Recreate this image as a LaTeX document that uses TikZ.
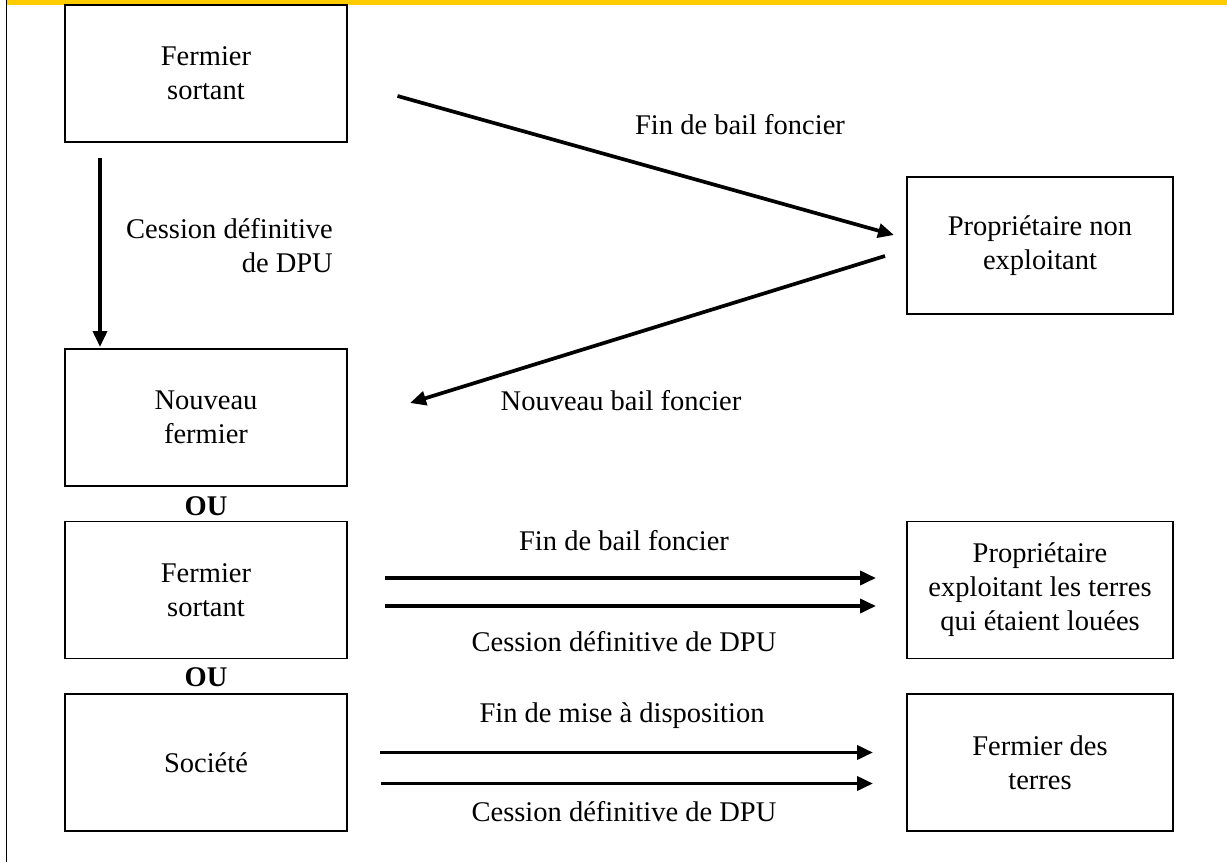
\documentclass[tikz,border=0pt]{standalone}
\usepackage{fontspec}
\setmainfont{Liberation Serif}
\usetikzlibrary{arrows.meta}
\definecolor{bandyellow}{HTML}{FFCC00}
\tikzset{
  box/.style={draw=black, line width=1.4pt, minimum width=282pt, minimum height=137pt, inner sep=0pt, align=center, font=\fontsize{28.5}{34}\selectfont},
  rbox/.style={box, minimum width=266pt},
  lbl/.style={inner sep=0pt, font=\fontsize{28.5}{34}\selectfont},
  ou/.style={inner sep=0pt, font=\fontsize{28.5}{34}\selectfont\bfseries},
  arr/.style={line width=3.7pt, -{Triangle[length=16pt,width=14pt]}}
}
\begin{document}
\begin{tikzpicture}[x=1pt,y=-1pt]
\useasboundingbox (0,0) rectangle (1227,862);
% top band and left rule
\fill[bandyellow] (7,0) rectangle (1227,5);
\draw[line width=1.5pt] (6.5,0) -- (6.5,862);

% boxes
\node[box]  (fs1) at (206,73.5)  {Fermier\\sortant};
\node[rbox] (pne) at (1040,245.5) {Propriétaire non\\exploitant};
\node[box]  (nf)  at (206,417.5) {Nouveau\\fermier};
\node[box]  (fs2) at (206,590)   {Fermier\\sortant};
\node[rbox] (pet) at (1040,590)  {Propriétaire\\exploitant les terres\\qui étaient louées};
\node[box]  (soc) at (206,762.5) {Société};
\node[rbox] (fdt) at (1040,762.5) {Fermier des\\terres};

% OU
\node[ou] (ou1) at (206,506) {OU};
\node[ou] (ou2) at (206,677) {OU};

% arrow end points
\coordinate (d1s) at (397.5,96);
\coordinate (d1e) at (894,235);
\coordinate (d2s) at (885,256);
\coordinate (d2e) at (410,403);
\coordinate (vs) at (100,158);
\coordinate (ve) at (100,347);
\coordinate (h1s) at (385,578);
\coordinate (h1e) at (876,578);
\coordinate (h2s) at (385,606);
\coordinate (h2e) at (876,606);
\coordinate (h3s) at (380,752.5);
\coordinate (h3e) at (873,752.5);
\coordinate (h4s) at (381,783.5);
\coordinate (h4e) at (873,783.5);

\draw[arr] (d1s) -- (d1e);
\draw[arr] (d2s) -- (d2e);
\draw[arr] (vs) -- (ve);
\draw[arr] (h1s) -- (h1e);
\draw[arr] (h2s) -- (h2e);
\draw[arr] (h3s) -- (h3e);
\draw[arr] (h4s) -- (h4e);

% labels
\node[lbl, anchor=base] (l1) at (740,134) {Fin de bail foncier};
\node[lbl, anchor=east, align=right] (l2) at (333,246) {Cession définitive\\de DPU};
\node[lbl, anchor=base] (l3) at (621,410) {Nouveau bail foncier};
\node[lbl, anchor=base] (l4) at (624,550) {Fin de bail foncier};
\node[lbl, anchor=base] (l5) at (624,651) {Cession définitive de DPU};
\node[lbl, anchor=base] (l6) at (622,722) {Fin de mise à disposition};
\node[lbl, anchor=base] (l7) at (624,821) {Cession définitive de DPU};
\end{tikzpicture}
\end{document}
